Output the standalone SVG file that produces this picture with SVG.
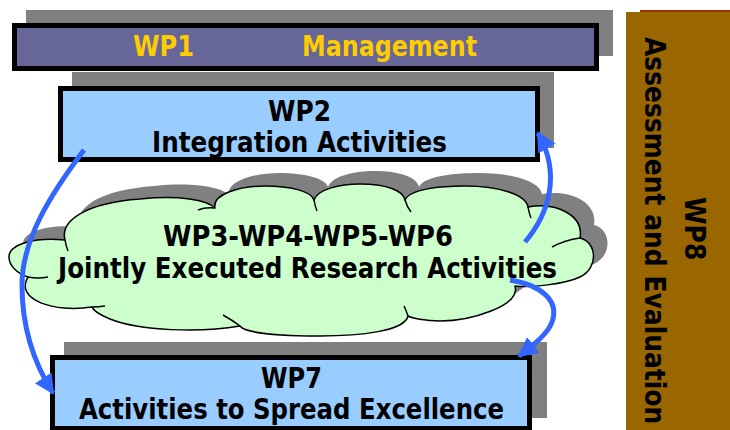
<svg xmlns="http://www.w3.org/2000/svg" width="730" height="430" viewBox="0 0 730 430">
  <defs>
    <style>
      .shadow { fill: #808080; }
      .box { stroke: #000; stroke-width: 5; }
      .wp1 { fill: #666699; }
      .blue { fill: #99CCFF; }
      .t { font-family: "DejaVu Sans", Verdana, sans-serif; font-weight: bold; font-size: 28px; fill: #000; }
      .ty { fill: #FFCC00; font-size: 28px; }
      .tv { font-size: 25px; }
      .cloud { fill: #CCFFCC; stroke: #000; stroke-width: 1.5; stroke-linejoin: round; }
      .cusp { fill: none; stroke: #000; stroke-width: 1.5; }
      .arrow { fill: none; stroke: #3366FF; stroke-width: 5; marker-end: url(#head); }
    </style>
    <marker id="head" markerUnits="userSpaceOnUse" markerWidth="24" markerHeight="22" refX="18" refY="10" orient="auto">
      <path d="M0,0 L20,10 L0,20 Z" fill="#3366FF"/>
    </marker>
    <path id="cloudShape" d="M28,277 C18,274 9,266 9,257 C9,244 35,237 65,240 C60,221 85,203 140,199 C180,195 207,200 215,208 C212,194 240,186 265,186 C290,186 311,191 314,200 C318,189 340,184 360,184 C385,184 403,190 405,200 C410,189 440,186 465,186 C500,186 526,195 528,207 C556,202 584,215 580,238 C597,242 599,268 580,277 C565,284 530,288 515,286 C521,306 470,321 440,321 C425,321 412,318 408,316 C405,331 360,336 320,336 C280,336 245,333 240,326 C200,333 140,331 110,319 C100,315 93,310 92,307 C55,313 14,300 28,277 Z"/>
  </defs>

  <g id="wp8">
    <rect x="640" y="10" width="90" height="2" fill="#993300"/>
    <rect x="626" y="12" width="104" height="420" fill="#996600"/>
    <text class="t tv" transform="translate(685,197) rotate(90) scale(1,1.12)" x="0" y="0">WP8</text>
    <text class="t tv" transform="translate(645,37) rotate(90) scale(1,1.12)" x="0" y="0">Assessment and Evaluation</text>
  </g>

  <g id="wp1">
    <rect class="shadow" x="26" y="10" width="587" height="46"/>
    <rect class="box wp1" x="14.5" y="25.5" width="582" height="43"/>
    <text class="t ty" x="133" y="56" textLength="61" lengthAdjust="spacingAndGlyphs">WP1</text>
    <text class="t ty" x="302" y="56" textLength="175" lengthAdjust="spacingAndGlyphs">Management</text>
  </g>

  <g id="wp2">
    <rect class="shadow" x="72" y="72" width="482" height="76"/>
    <rect class="box blue" x="60.5" y="88.5" width="477" height="71"/>
    <text class="t" x="268" y="121" textLength="63" lengthAdjust="spacingAndGlyphs">WP2</text>
    <text class="t" x="152" y="152" textLength="295" lengthAdjust="spacingAndGlyphs">Integration Activities</text>
  </g>

  <g id="wp3-6">
    <use href="#cloudShape" class="shadow" transform="translate(14,-13)"/>
    <use href="#cloudShape" class="cloud"/>
    <path class="cusp" d="M28,277 Q38,279 48,277 M65,240 Q66,246 68,251 M215,208 Q205,207 198,210 M314,200 Q315,206 317,211 M405,200 Q407,207 411,212 M528,207 Q529,213 531,218 M580,238 Q565,240 552,247 M408,316 Q406,310 404,306 M240,326 Q232,320 223,315 M92,307 Q98,307 105,306"/>
    <text class="t" x="163" y="246" textLength="290" lengthAdjust="spacingAndGlyphs">WP3-WP4-WP5-WP6</text>
    <text class="t" x="58" y="278" textLength="499" lengthAdjust="spacingAndGlyphs">Jointly Executed Research Activities</text>
  </g>

  <g id="wp7">
    <rect class="shadow" x="64" y="342" width="483" height="76"/>
    <rect class="box blue" x="52.5" y="357.5" width="477" height="71"/>
    <text class="t" x="261" y="388" textLength="61" lengthAdjust="spacingAndGlyphs">WP7</text>
    <text class="t" x="79" y="419" textLength="425" lengthAdjust="spacingAndGlyphs">Activities to Spread Excellence</text>
  </g>

  <g id="connectors">
    <path class="arrow" d="M84,150 C50,195 22,240 22,285 C22,330 35,365 53,393"/>
    <path class="arrow" d="M525,242 C548,215 562,175 538,133"/>
    <path class="arrow" d="M510,280 C540,285 560,300 552,322 C548,334 532,346 519,356"/>
  </g>
</svg>
